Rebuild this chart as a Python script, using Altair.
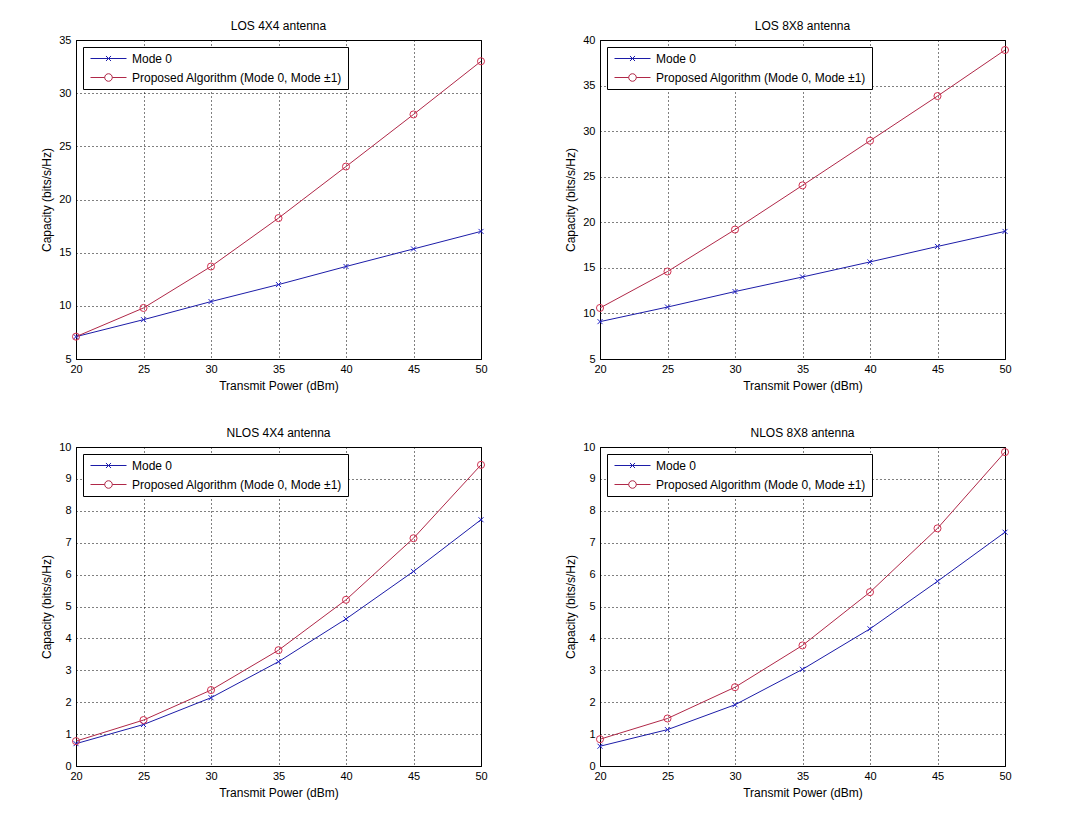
import altair as alt
import pandas as pd

FONT = "Liberation Sans"

power = [20, 25, 30, 35, 40, 45, 50]
series_names = ["Mode 0", "Proposed Algorithm (Mode 0, Mode \u00b11)"]

los4_mode0 = [7.1, 8.7, 10.4, 12.0, 13.7, 15.35, 17.0]
los4_prop = [7.1, 9.8, 13.7, 18.25, 23.1, 28.0, 33.0]
los8_mode0 = [9.1, 10.7, 12.4, 14.0, 15.65, 17.35, 19.0]
los8_prop = [10.6, 14.6, 19.2, 24.05, 28.95, 33.85, 38.9]
nlos4_mode0 = [0.7, 1.3, 2.14, 3.27, 4.61, 6.1, 7.72]
nlos4_prop = [0.78, 1.44, 2.38, 3.63, 5.21, 7.14, 9.44]
nlos8_mode0 = [0.62, 1.14, 1.92, 3.03, 4.3, 5.79, 7.33]
nlos8_prop = [0.84, 1.49, 2.47, 3.78, 5.45, 7.45, 9.84]

titles = ["LOS 4X4 antenna", "LOS 8X8 antenna", "NLOS 4X4 antenna", "NLOS 8X8 antenna"]
y_domains = [[5, 35], [5, 40], [0, 10], [0, 10]]
y_ticks = [list(range(5, 36, 5)), list(range(5, 41, 5)), list(range(0, 11)), list(range(0, 11))]
x_ticks = list(range(20, 51, 5))

BLUE = "#1c1ca8"
RED = "#b02848"
BLUE_M = "#2020c8"
RED_M = "#d03050"

X_PATH = "M-1,-1L1,1M-1,1L1,-1"
LEG_X = "M-3,0L3,0M-0.42,-0.42L0.42,0.42M-0.42,0.42L0.42,-0.42"
LEG_O = "M-3,0L-0.63,0M0.63,0L3,0M0.63,0A0.63,0.63 0 1,1 -0.63,0A0.63,0.63 0 1,1 0.63,0"


def legend():
    return alt.Legend(
        orient="top-left", title=None, offset=7, padding=5,
        strokeColor="black", fillColor="white", cornerRadius=0,
        labelFontSize=12, labelFont=FONT, labelColor="black", labelLimit=400,
        symbolSize=144, symbolStrokeWidth=1, symbolOffset=14, labelOffset=17,
        rowPadding=6,
    )


def panel(title, m0, pr, ydom, yt):
    df = pd.DataFrame({
        "power": power + power,
        "cap": m0 + pr,
        "series": [series_names[0]] * len(power) + [series_names[1]] * len(power),
    })
    x = alt.X("power:Q", scale=alt.Scale(domain=[20, 50], nice=False, zero=False),
              axis=alt.Axis(values=x_ticks, title="Transmit Power (dBm)"))
    y = alt.Y("cap:Q", scale=alt.Scale(domain=ydom, nice=False, zero=False),
              axis=alt.Axis(values=yt, title="Capacity (bits/s/Hz)"))
    base = alt.Chart(df).encode(x=x, y=y)
    f0 = base.transform_filter(alt.datum.series == series_names[0])
    f1 = base.transform_filter(alt.datum.series == series_names[1])
    l0 = f0.mark_line(color=BLUE, strokeWidth=1)
    l1 = f1.mark_line(color=RED, strokeWidth=1)
    p0 = f0.mark_point(shape=X_PATH, size=25, color=BLUE_M, strokeWidth=1, filled=False, opacity=1)
    p1 = f1.mark_point(shape="circle", size=50, color=RED_M, strokeWidth=1, filled=False, opacity=1)
    leg = base.transform_filter("false").mark_point(filled=False, strokeWidth=1, opacity=1).encode(
        stroke=alt.Stroke("series:N", scale=alt.Scale(domain=series_names, range=[BLUE, RED]), legend=legend()),
        shape=alt.Shape("series:N", scale=alt.Scale(domain=series_names, range=[LEG_X, LEG_O]), legend=legend()),
    )
    return alt.layer(l0, l1, p0, p1, leg).properties(width=405, height=319, title=title)


panels = [
    panel(titles[0], los4_mode0, los4_prop, y_domains[0], y_ticks[0]),
    panel(titles[1], los8_mode0, los8_prop, y_domains[1], y_ticks[1]),
    panel(titles[2], nlos4_mode0, nlos4_prop, y_domains[2], y_ticks[2]),
    panel(titles[3], nlos8_mode0, nlos8_prop, y_domains[3], y_ticks[3]),
]


def row(a, b):
    return (alt.hconcat(a, b, spacing=76)
            .resolve_scale(stroke="independent", shape="independent")
            .resolve_legend(stroke="independent", shape="independent"))


chart = (
    alt.vconcat(row(panels[0], panels[1]), row(panels[2], panels[3]), spacing=34)
    .resolve_scale(stroke="independent", shape="independent")
    .resolve_legend(stroke="independent", shape="independent")
    .properties(padding={"left": 32, "top": 11, "right": 5, "bottom": 5}, background="white")
    .configure(font=FONT)
    .configure_axis(
        domainColor="black", domainWidth=1,
        gridColor="black", gridDash=[1, 3], gridOpacity=1, gridWidth=1,
        ticks=False, labelFontSize=11, labelColor="black", labelFont=FONT,
        titleFontSize=12, titleFontWeight="normal", titleColor="black", titleFont=FONT,
        labelFlush=False, labelOverlap=False,
    )
    .configure_axisX(labelPadding=4, titlePadding=6)
    .configure_axisY(labelPadding=5, titlePadding=5)
    .configure_title(fontSize=12, fontWeight="normal", color="black", font=FONT, offset=1, anchor="middle")
    .configure_view(stroke="black", strokeWidth=1)
)

chart.save("out.html", embed_options={"renderer": "svg", "actions": False})
